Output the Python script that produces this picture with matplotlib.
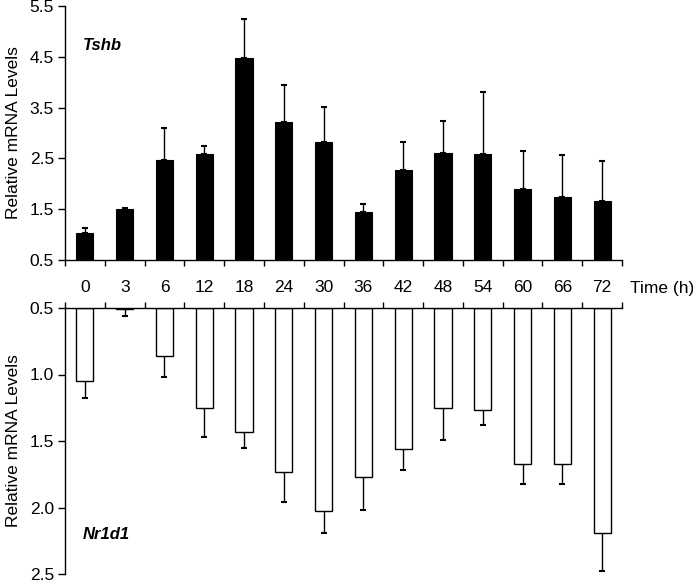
import matplotlib
matplotlib.use("Agg")
import matplotlib.pyplot as plt
import numpy as np

plt.rcParams['font.family'] = ['Liberation Sans', 'DejaVu Sans']

times = ["0", "3", "6", "12", "18", "24", "30", "36", "42", "48", "54", "60", "66", "72"]
tshb = [1.03, 1.50, 2.47, 2.59, 4.48, 3.22, 2.82, 1.44, 2.28, 2.61, 2.58, 1.89, 1.74, 1.67]
tshb_err = [0.10, 0.02, 0.63, 0.16, 0.76, 0.72, 0.70, 0.17, 0.55, 0.62, 1.23, 0.76, 0.83, 0.77]
nr1d1 = [1.05, 0.51, 0.86, 1.25, 1.43, 1.73, 2.03, 1.77, 1.56, 1.25, 1.27, 1.67, 1.67, 2.19]
nr1d1_err = [0.13, 0.05, 0.16, 0.22, 0.12, 0.23, 0.16, 0.25, 0.16, 0.24, 0.11, 0.15, 0.15, 0.29]

W, H = 693, 584
fig = plt.figure(figsize=(W / 100, H / 100), dpi=100)

def ax_rect(l, t, r, b):
    return [l / W, 1 - b / H, (r - l) / W, (b - t) / H]

x = np.arange(len(times))
bw = 0.43
fs = 12.5

# Top panel
ax1 = fig.add_axes(ax_rect(65, 6, 622, 260))
ax1.bar(x, np.array(tshb) - 0.5, bottom=0.5, width=bw, color='black', edgecolor='black', linewidth=0.8, zorder=2)
ax1.errorbar(x, tshb, yerr=[np.zeros(len(tshb)), tshb_err], fmt='none', ecolor='black',
             elinewidth=1.0, capsize=2.5, capthick=1.5, zorder=1)
ax1.set_xlim(-0.5, len(times) - 0.5)
ax1.set_ylim(0.5, 5.5)
ax1.set_yticks([0.5, 1.5, 2.5, 3.5, 4.5, 5.5])
ax1.set_yticklabels(["0.5", "1.5", "2.5", "3.5", "4.5", "5.5"])
ax1.set_xticks(np.arange(len(times) + 1) - 0.5)
ax1.set_xticklabels([])
for s in ['top', 'right']:
    ax1.spines[s].set_visible(False)
ax1.spines['left'].set_linewidth(1.0)
ax1.spines['bottom'].set_linewidth(1.0)
ax1.tick_params(axis='y', direction='out', length=5, width=1.0, labelsize=fs, pad=3)
ax1.tick_params(axis='x', direction='out', length=4, width=1.0)
ax1.set_ylabel("Relative mRNA Levels", fontsize=fs, labelpad=6)
ax1.text(0.032, 0.846, "Tshb", transform=ax1.transAxes, fontsize=12, fontweight='bold',
         fontstyle='italic', ha='left', va='center')

# Category labels between panels
for i, t in enumerate(times):
    fig.text((65 + (i + 0.5) * (622 - 65) / len(times)) / W, 1 - 288 / H, t,
             ha='center', va='center', fontsize=fs)
fig.text(630 / W, 1 - 289 / H, "Time (h)", ha='left', va='center', fontsize=fs)

# Bottom panel
ax2 = fig.add_axes(ax_rect(65, 308, 622, 574))
ax2.bar(x, np.array(nr1d1) - 0.5, bottom=0.5, width=bw, color='white', edgecolor='black', linewidth=1.0, zorder=2)
ax2.errorbar(x, nr1d1, yerr=[np.zeros(len(nr1d1)), nr1d1_err], fmt='none', ecolor='black',
             elinewidth=1.0, capsize=2.5, capthick=1.5, zorder=1)
ax2.set_xlim(-0.5, len(times) - 0.5)
ax2.set_ylim(2.5, 0.5)
ax2.set_yticks([0.5, 1.0, 1.5, 2.0, 2.5])
ax2.set_yticklabels(["0.5", "1.0", "1.5", "2.0", "2.5"])
ax2.xaxis.tick_top()
ax2.set_xticks(np.arange(len(times) + 1) - 0.5)
ax2.set_xticklabels([])
for s in ['bottom', 'right']:
    ax2.spines[s].set_visible(False)
ax2.spines['left'].set_linewidth(1.0)
ax2.spines['top'].set_linewidth(1.0)
ax2.tick_params(axis='y', direction='out', length=5, width=1.0, labelsize=fs, pad=3)
ax2.tick_params(axis='x', direction='out', length=4, width=1.0)
ax2.set_ylabel("Relative mRNA Levels", fontsize=fs, labelpad=6)
ax2.text(0.032, 0.147, "Nr1d1", transform=ax2.transAxes, fontsize=12, fontweight='bold',
         fontstyle='italic', ha='left', va='center')

fig.savefig("out.png", dpi=100)
